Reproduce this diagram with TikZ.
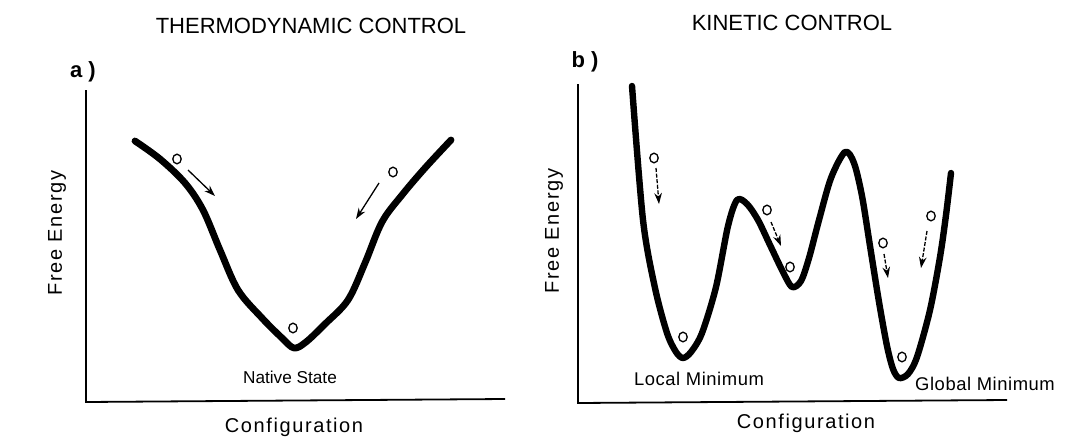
\documentclass[tikz,border=0pt]{standalone}
\usepackage{fontspec}
\setmainfont{Liberation Sans}
\usetikzlibrary{arrows.meta,shapes.geometric}
\begin{document}
\begin{tikzpicture}[x=0.5pt,y=-0.5pt,
  curve/.style={line width=3.4pt, line join=round, line cap=round},
  axisline/.style={line width=0.9pt},
  ball/.style={draw, ellipse, line width=0.65pt, minimum width=4.2pt, minimum height=4.8pt, inner sep=0pt},
  mover/.style={line width=0.65pt, -{Stealth[length=5.5pt,width=3.8pt]}},
  kmover/.style={mover, dash pattern=on 2pt off 0.8pt},
  title/.style={font=\fontsize{11}{13}\selectfont, inner sep=0pt},
  panel/.style={font=\bfseries\fontsize{11}{13}\selectfont, inner sep=0pt},
  axlabel/.style={font=\fontsize{10}{12}\selectfont\addfontfeature{LetterSpace=8}, inner sep=0pt},
  statelabel/.style={font=\fontsize{8.6}{10}\selectfont, inner sep=0pt},
  minlabel/.style={font=\fontsize{9.2}{11}\selectfont\addfontfeature{LetterSpace=3}, inner sep=0pt}]
\useasboundingbox[fill=white] (0,0) rectangle (1080,439);

% ---------- titles ----------
\node[title] (t1) at (311,26) {THERMODYNAMIC CONTROL};
\node[title] (t2) at (792,23) {KINETIC CONTROL};
\node[panel] (pa) at (83,72) {a )};
\node[panel] (pb) at (585,62) {b )};

% ---------- axes ----------
\coordinate (aTop) at (86,90);
\coordinate (aO) at (86,402);
\coordinate (aEnd) at (505,399);
\draw[axisline] (aTop) -- (aO) -- (aEnd);
\coordinate (bTop) at (578,84);
\coordinate (bO) at (578,403);
\coordinate (bEnd) at (1007,400);
\draw[axisline] (bTop) -- (bO) -- (bEnd);

\node[axlabel, rotate=90] (fe1) at (57,233) {Free Energy};
\node[axlabel, rotate=90] (fe2) at (554,231) {Free Energy};
\node[axlabel] (cf1) at (294,427) {Configuration};
\node[axlabel] (cf2) at (806,423) {Configuration};

% ---------- thermodynamic funnel ----------
\draw[curve] plot[smooth, tension=0.55] coordinates {
  (135,141) (160,159) (185,183) (203,210) (220,250) (238,290) (262,318)
  (282,338) (294,348) (306,342) (325,324) (348,300) (365,263) (382,222)
  (402,195) (425,168) (451,140)};

\node[ball] (ta1) at (177,159) {};
\node[ball] (ta2) at (393,172) {};
\node[ball] (ta3) at (293,328) {};
\coordinate (a1s) at (188,170); \coordinate (a1e) at (215,196);
\coordinate (a2s) at (379,183); \coordinate (a2e) at (356,219);
\draw[mover] (a1s) -- (a1e);
\draw[mover] (a2s) -- (a2e);
\node[statelabel] (ns) at (290,377) {Native State};

% ---------- kinetic landscape ----------
\draw[curve, line width=3.2pt] plot[smooth, tension=0.5] coordinates {
  (632,86) (643,220) (655,288) (667,333) (676,352) (683,358) (691,352)
  (702,333) (716,287) (728,226) (737,200) (747,204) (758,220) (770,245)
  (783,272) (792,287) (801,281) (809,258) (819,220) (831,178) (845,152)
  (854,163) (862,196) (870,246) (879,302) (887,346) (893,369) (899,378)
  (908,374) (917,357) (930,310) (940,257) (946,215) (951,173)};

\node[ball] (kb1) at (654,158) {};
\node[ball] (kb2) at (767,210) {};
\node[ball] (kb3) at (790,267) {};
\node[ball] (kb4) at (883,243) {};
\node[ball] (kb5) at (931,216) {};
\node[ball] (kb6) at (683,337) {};
\node[ball] (kb7) at (902,357) {};

\coordinate (k1s) at (656,168); \coordinate (k1e) at (659,204);
\coordinate (k2s) at (771,222); \coordinate (k2e) at (781,246);
\coordinate (k3s) at (884,254); \coordinate (k3e) at (888,278);
\coordinate (k4s) at (927,231); \coordinate (k4e) at (921,268);
\draw[kmover] (k1s) -- (k1e);
\draw[kmover] (k2s) -- (k2e);
\draw[kmover] (k3s) -- (k3e);
\draw[kmover] (k4s) -- (k4e);

\node[minlabel] (lm) at (699,379) {Local Minimum};
\node[minlabel] (gm) at (985,384) {Global Minimum};
\end{tikzpicture}
\end{document}
